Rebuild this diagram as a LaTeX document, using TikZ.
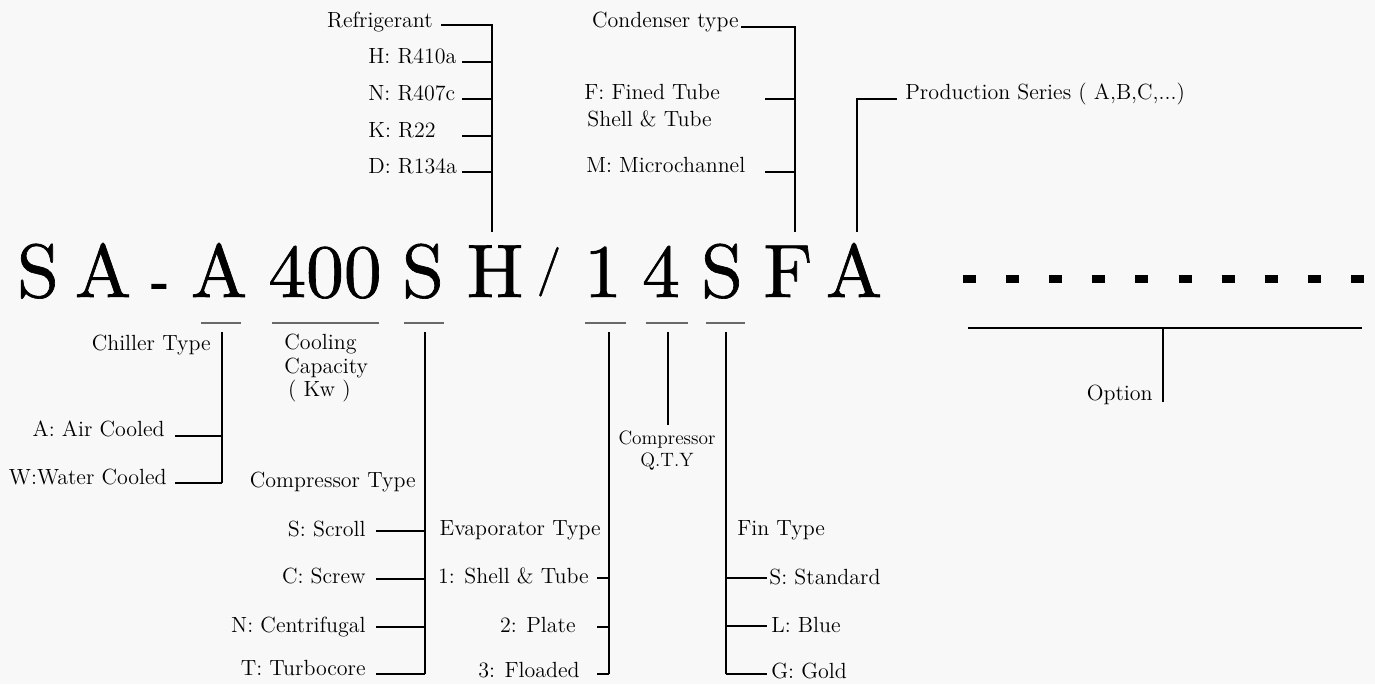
\documentclass[tikz,border=0pt]{standalone}
\usepackage{fontspec}
\usepackage{tikz}
\usetikzlibrary{positioning}
\newfontfamily\codefont[FakeBold=0.9]{lmroman10-regular.otf}
\newfontfamily\codeheavy[FakeBold=4]{lmroman10-regular.otf}
\definecolor{paper}{RGB}{248,248,248}
\definecolor{rulegray}{RGB}{105,105,105}

\begin{document}
\begin{tikzpicture}[x=0.02cm,y=-0.02cm,
    lbl/.style={inner sep=0pt,font=\fontsize{12.5}{15}\selectfont},
    qty/.style={inner sep=0pt,font=\fontsize{11}{12}\selectfont},
    code/.style={inner sep=0pt,anchor=base,font=\codefont\fontsize{43}{43}\selectfont},
    link/.style={black,line width=0.8pt},
    under/.style={rulegray,line width=0.7pt}]

    \fill[paper] (0,0) rectangle (1375,684);
    \useasboundingbox (0,0) rectangle (1375,684);

    % model code
    \foreach \c/\x [count=\i] in {S/38,A/103,A/219,400/325,S/423,H/495,1/603,4/661,S/722,F/788,A/854}
      \node[code] (c\i) at (\x,297) {\c};
    \node[code,font=\codeheavy\fontsize{28}{28}\selectfont] (dash) at (160,297) {-};
    \node[code,font=\codefont\fontsize{28}{28}\selectfont] (slash) at (549,284) {/};
    \foreach \i in {0,...,9}
      \draw[black,line width=4.2pt] (963+43.1*\i,279) -- +(13,0);

    % refrigerant
    \node[lbl,anchor=base east] (ref) at (433,27) {Refrigerant};
    \coordinate (refL) at (441,25);
    \coordinate (refT) at (492,25);
    \coordinate (refB) at (492,232);
    \draw[link] (refL) -- (refT) -- (refB);
    \foreach \t/\y [count=\i] in {H: R410a/62,N: R407c/99,K: R22/136,D: R134a/172}{
      \node[lbl,anchor=base west] (ref\i) at (368,\y+1) {\t};
      \coordinate (refk\i) at (462,\y);
      \draw[link] (refk\i) -- (refk\i -| refT);
    }

    % condenser
    \node[lbl,anchor=base east] (cond) at (739,27) {Condenser type};
    \coordinate (condL) at (741,27);
    \coordinate (condT) at (795,27);
    \coordinate (condB) at (795,232);
    \draw[link] (condL) -- (condT) -- (condB);
    \node[lbl,anchor=base west] (condF) at (584,99) {F: Fined Tube};
    \node[lbl,anchor=base west] (condS) at (587,126) {Shell \& Tube};
    \node[lbl,anchor=base west] (condM) at (586,172) {M: Microchannel};
    \coordinate (condk1) at (765,99);
    \coordinate (condk2) at (765,172);
    \draw[link] (condk1) -- (condk1 -| condT);
    \draw[link] (condk2) -- (condk2 -| condT);

    % production series
    \node[lbl,anchor=base west] (prod) at (905,99) {Production Series ( A,B,C,...)};
    \coordinate (prodR) at (897,99);
    \coordinate (prodT) at (857,99);
    \coordinate (prodB) at (857,232);
    \draw[link] (prodR) -- (prodT) -- (prodB);

    % underlines
    \foreach \a/\b in {201/241,272/379,404/444,585/626,646/688,706/745}
      \draw[under] (\a,323) -- (\b,323);

    % chiller type
    \coordinate (chT) at (222,332);
    \coordinate (chB) at (222,483);
    \draw[link] (chT) -- (chB);
    \node[lbl,anchor=base east] (chl) at (211,350) {Chiller Type};
    \node[lbl,anchor=base east] (chA) at (165,436) {A: Air Cooled};
    \node[lbl,anchor=base east] (chW) at (167,484) {W:Water Cooled};
    \coordinate (chk1) at (175,436);
    \coordinate (chk2) at (175,483);
    \draw[link] (chk1) -- (chk1 -| chT);
    \draw[link] (chk2) -- (chB);

    % cooling capacity
    \node[lbl,anchor=north west,align=left,font=\fontsize{12.5}{13.2}\selectfont]
      (cap) at (284,334) {Cooling\\Capacity\\\,( Kw )};

    % compressor type
    \coordinate (cpT) at (425,332);
    \coordinate (cpB) at (425,674);
    \draw[link] (cpT) -- (cpB);
    \node[lbl,anchor=base east] (cpl) at (416,487) {Compressor Type};
    \foreach \t/\y/\b [count=\i] in {S: Scroll/531/536,C: Screw/579/583,N: Centrifugal/627/632,T: Turbocore/674/675}{
      \node[lbl,anchor=base east] (cp\i) at (366,\b) {\t};
      \coordinate (cpk\i) at (376,\y);
      \draw[link] (cpk\i) -- (cpk\i -| cpT);
    }

    % evaporator type
    \coordinate (evT) at (609,332);
    \coordinate (evB) at (609,674);
    \draw[link] (evT) -- (evB);
    \node[lbl,anchor=base east] (evl) at (601,535) {Evaporator Type};
    \foreach \t/\x/\y/\b [count=\i] in {1: Shell \& Tube/589/578/583,2: Plate/576/627/632,3: Floaded/580/674/677}{
      \node[lbl,anchor=base east] (ev\i) at (\x,\b) {\t};
      \coordinate (evk\i) at (597,\y);
      \draw[link] (evk\i) -- (evk\i -| evT);
    }

    % compressor quantity
    \coordinate (qtT) at (668,332);
    \coordinate (qtB) at (668,425);
    \draw[link] (qtT) -- (qtB);
    \node[qty,anchor=north,align=center] (qtl) at (667,431) {Compressor\\Q.T.Y};

    % fin type
    \coordinate (fnT) at (726,332);
    \coordinate (fnB) at (726,674);
    \draw[link] (fnT) -- (fnB);
    \node[lbl,anchor=base west] (fnl) at (737,535) {Fin Type};
    \foreach \t/\x/\y/\b [count=\i] in {S: Standard/769/578/584,L: Blue/771/626/632,G: Gold/771/674/678}{
      \node[lbl,anchor=base west] (fn\i) at (\x,\b) {\t};
      \coordinate (fnk\i) at (767,\y);
      \draw[link] (fnk\i -| fnT) -- (fnk\i);
    }

    % option
    \coordinate (opL) at (968,328);
    \coordinate (opR) at (1362,328);
    \coordinate (opT) at (1163,328);
    \coordinate (opB) at (1163,402);
    \draw[link] (opL) -- (opR);
    \draw[link] (opT) -- (opB);
    \node[lbl,anchor=base east] (opl) at (1153,400) {Option};
\end{tikzpicture}
\end{document}
